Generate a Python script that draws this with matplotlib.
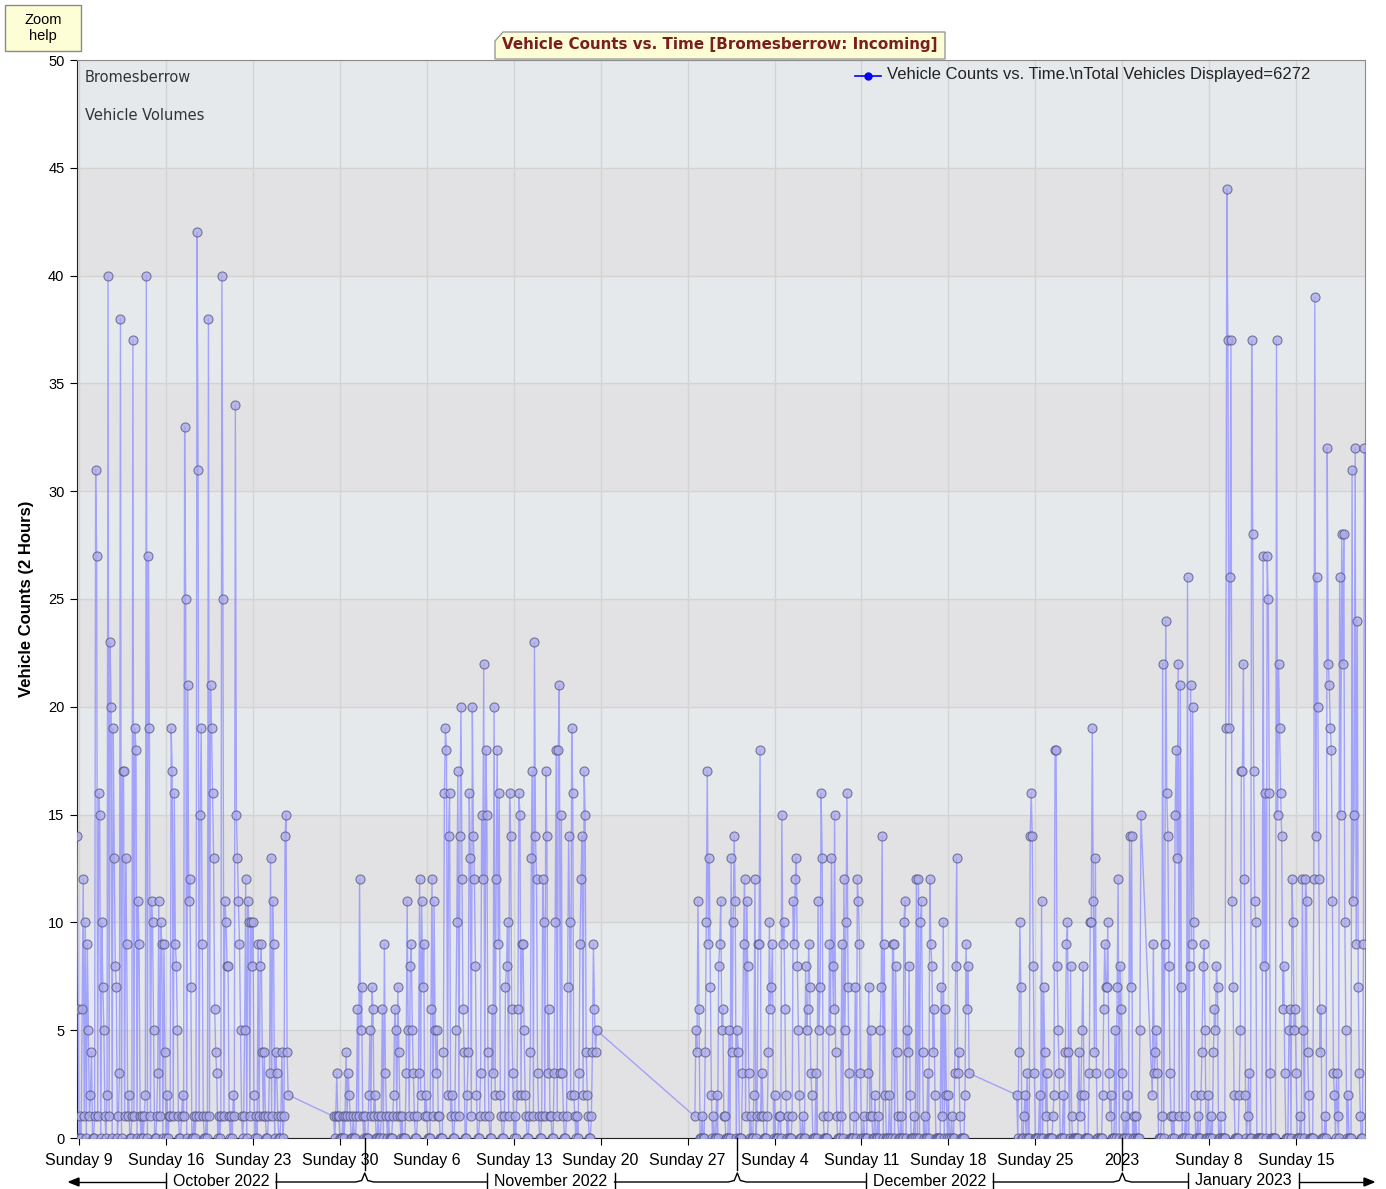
from datetime import datetime, timedelta

import matplotlib
matplotlib.use("Agg")
import matplotlib.dates as mdates
import matplotlib.pyplot as plt
import numpy as np
from matplotlib.lines import Line2D
from matplotlib.patches import Polygon, Rectangle


W, H = 1386, 1189

# 2-hour vehicle counts, one run per continuous stretch of data
oct_start = datetime(2022, 10, 8, 20)
oct_counts = [
    14, 6,
    0, 1, 0, 6, 12, 1, 10, 0, 9, 5, 1, 2,
    4, 0, 0, 1, 31, 27, 1, 16, 15, 0, 10, 7,
    5, 1, 0, 2, 40, 1, 23, 20, 0, 19, 13, 8,
    7, 0, 1, 3, 38, 0, 17, 17, 1, 13, 9, 1,
    2, 0, 0, 1, 37, 1, 19, 18, 0, 11, 9, 1,
    0, 1, 0, 1, 2, 40, 0, 27, 19, 1, 11, 10,
    5, 0, 0, 1, 3, 11, 1, 10, 9, 0, 9, 4,
    0, 2, 0, 1, 1, 19, 17, 1, 16, 9, 8, 5,
    1, 0, 0, 1, 2, 1, 33, 25, 0, 21, 11, 12,
    7, 0, 0, 1, 0, 1, 42, 31, 1, 15, 19, 9,
    1, 0, 0, 1, 0, 38, 1, 21, 19, 16, 13, 6,
    4, 3, 0, 1, 0, 1, 40, 25, 1, 11, 10, 8,
    8, 1, 0, 1, 0, 2, 1, 34, 15, 13, 11, 9,
    5, 1, 0, 1, 5, 12, 0, 11, 10, 1, 10, 8,
    10, 2, 0, 1, 0, 9, 1, 8, 9, 4, 1, 4,
    1, 0, 0, 1, 3, 13, 1, 11, 9, 0, 4, 3,
    1, 0, 0, 1, 4, 0, 1, 14, 15, 4, 2,
]

nov_start = datetime(2022, 10, 29, 12)
nov_counts = [
    1, 0, 1, 3, 1, 1,
    0, 0, 0, 1, 0, 1, 4, 1, 3, 2, 1, 0,
    0, 1, 0, 0, 1, 6, 1, 12, 5, 7, 1, 0,
    1, 0, 0, 0, 2, 5, 1, 7, 6, 1, 2, 0,
    0, 1, 0, 0, 1, 6, 0, 9, 3, 1, 0, 1,
    0, 0, 0, 1, 2, 6, 5, 1, 7, 4, 1, 0,
    1, 0, 0, 0, 3, 11, 5, 1, 8, 9, 5, 3,
    1, 0, 0, 1, 3, 12, 2, 11, 7, 9, 1, 2,
    1, 0, 0, 0, 6, 12, 1, 11, 5, 3, 5, 1,
    1, 0, 0, 0, 4, 16, 19, 18, 2, 14, 16, 1,
    2, 0, 0, 1, 5, 10, 17, 1, 14, 20, 12, 6,
    4, 0, 0, 2, 4, 16, 13, 1, 20, 14, 12, 8,
    2, 0, 0, 1, 3, 15, 12, 22, 1, 18, 15, 4,
    1, 0, 0, 6, 3, 20, 2, 12, 18, 9, 16, 2,
    1, 0, 0, 1, 7, 8, 10, 1, 16, 14, 6, 3,
    0, 1, 0, 2, 6, 16, 15, 2, 9, 9, 5, 2,
    1, 0, 0, 1, 4, 13, 17, 1, 23, 14, 12, 3,
    1, 0, 0, 1, 12, 10, 1, 17, 14, 3, 6, 1,
    1, 0, 0, 3, 10, 18, 1, 18, 21, 3, 15, 3,
    1, 0, 0, 1, 7, 14, 10, 2, 19, 16, 2, 1,
    0, 1, 0, 3, 9, 12, 14, 2, 17, 15, 4, 2,
    1, 0, 0, 1, 4, 9, 6, 4, 5,
]

dec_start = datetime(2022, 11, 27, 14)
dec_counts = [
    1, 5, 4, 11, 6,
    0, 0, 1, 0, 0, 4, 10, 17, 9, 13, 7, 2,
    0, 1, 0, 0, 2, 0, 8, 9, 11, 5, 6, 1,
    1, 0, 0, 0, 5, 0, 13, 4, 10, 14, 11, 0,
    5, 4, 0, 0, 0, 3, 9, 12, 1, 11, 8, 3,
    0, 1, 0, 0, 2, 12, 0, 1, 9, 9, 18, 1,
    3, 1, 0, 0, 0, 1, 4, 10, 6, 7, 9, 0,
    2, 0, 0, 0, 1, 1, 0, 15, 9, 10, 6, 2,
    0, 1, 0, 0, 0, 1, 11, 9, 12, 13, 8, 5,
    2, 0, 0, 1, 0, 0, 8, 5, 6, 9, 7, 3,
    2, 0, 0, 0, 3, 0, 11, 5, 7, 16, 13, 1,
    0, 0, 0, 0, 1, 9, 5, 13, 8, 6, 15, 4,
    1, 0, 0, 0, 1, 9, 0, 12, 5, 10, 16, 7,
    3, 0, 0, 0, 0, 1, 7, 0, 12, 11, 9, 3,
    0, 0, 1, 0, 0, 0, 3, 7, 1, 5, 1, 0,
    0, 2, 0, 0, 1, 0, 5, 7, 14, 0, 9, 2,
    0, 0, 0, 2, 0, 0, 9, 9, 0, 8, 4, 1,
    0, 0, 1, 0, 0, 10, 11, 0, 5, 4, 8, 2,
    0, 0, 0, 1, 0, 12, 0, 12, 0, 10, 11, 4,
    0, 1, 0, 0, 3, 0, 12, 9, 8, 4, 6, 2,
    0, 0, 0, 0, 0, 7, 1, 10, 0, 6, 2, 0,
    2, 0, 0, 1, 0, 0, 3, 8, 13, 3, 4, 1,
    0, 0, 0, 0, 2, 9, 6, 8, 3,
]

xmas_start = datetime(2022, 12, 23, 12)
xmas_counts = [
    2, 0, 4, 10, 7, 0,
    0, 1, 2, 0, 3, 0, 0, 14, 16, 14, 8, 3,
    0, 0, 0, 0, 2, 0, 11, 0, 7, 4, 1, 3,
    0, 0, 0, 0, 0, 1, 2, 18, 18, 8, 5, 3,
    0, 0, 0, 2, 0, 4, 9, 10, 4, 0, 8, 1,
    0, 0, 0, 0, 0, 0, 4, 1, 2, 5, 8, 2,
    0, 0, 0, 0, 3, 10, 10, 19, 11, 4, 13, 3,
    0, 0, 0, 0, 0, 2, 6, 9, 7, 7, 10, 3,
    1, 2, 0, 0, 0, 5, 0, 7, 12, 0, 8, 6,
    3, 0, 0, 1, 0, 2, 0, 14, 7, 14, 0, 1,
    0, 1, 0, 0, 0, 5, 15,
]

jan_start = datetime(2023, 1, 3, 10)
jan_counts = [
    2, 9, 3, 4, 5, 3, 0,
    0, 0, 1, 22, 0, 9, 24, 16, 14, 8, 3, 1,
    0, 1, 0, 15, 18, 13, 22, 1, 21, 7, 0, 0,
    0, 1, 0, 26, 0, 8, 21, 9, 20, 10, 2, 0,
    0, 1, 0, 0, 2, 4, 8, 9, 5, 0, 0, 2,
    0, 0, 1, 0, 4, 6, 5, 8, 7, 0, 0, 1,
    0, 0, 0, 0, 19, 44, 37, 19, 26, 37, 11, 7,
    2, 0, 0, 0, 0, 2, 5, 17, 17, 22, 12, 2,
    0, 1, 3, 0, 0, 37, 28, 17, 11, 10, 0, 0,
    0, 0, 0, 0, 27, 8, 16, 0, 27, 25, 16, 3,
    0, 0, 0, 0, 0, 37, 15, 22, 19, 16, 14, 6,
    8, 3, 0, 0, 0, 5, 6, 0, 12, 10, 5, 6,
    3, 0, 0, 0, 1, 0, 12, 5, 0, 12, 11, 4,
    2, 0, 0, 0, 0, 12, 39, 14, 26, 20, 12, 4,
    6, 0, 0, 0, 1, 0, 32, 22, 21, 19, 18, 11,
    3, 2, 0, 3, 1, 0, 26, 15, 28, 22, 28, 10,
    5, 0, 2, 0, 0, 0, 31, 11, 15, 32, 9, 24,
    7, 3, 1, 0, 0, 9, 32,
]

segments = [
    (oct_start, oct_counts),
    (nov_start, nov_counts),
    (dec_start, dec_counts),
    (xmas_start, xmas_counts),
    (jan_start, jan_counts),
]

x_start = datetime(2022, 10, 8, 20)
x_end = datetime(2023, 1, 20, 13)

sunday_ticks = [datetime(2022, 10, 9) + timedelta(days=7 * i) for i in range(15)]
sunday_labels = ["Sunday 9", "Sunday 16", "Sunday 23", "Sunday 30", "Sunday 6",
                 "Sunday 13", "Sunday 20", "Sunday 27", "Sunday 4", "Sunday 11",
                 "Sunday 18", "Sunday 25", "2023", "Sunday 8", "Sunday 15"]
month_bounds = [datetime(2022, 11, 1), datetime(2022, 12, 1), datetime(2023, 1, 1)]
month_labels = ["October 2022", "November 2022", "December 2022", "January 2023"]


def fig_xy(x, y):
    # pixel position (y from top) -> figure fraction
    return x / W, 1 - y / H


times = []
values = []
for start, counts in segments:
    for i, c in enumerate(counts):
        times.append(start + timedelta(hours=2 * i))
        values.append(c)
times = mdates.date2num(times)
values = np.array(values)

fig = plt.figure(figsize=(W / 100, H / 100), dpi=100)
fig.patch.set_facecolor("white")
ax = fig.add_axes([77 / W, 1 - 1138 / H, (1365 - 77) / W, (1138 - 60) / H])

ax.set_facecolor("#e6e9ec")
for lo in range(0, 50, 10):
    ax.axhspan(lo, lo + 5, color="#e2e2e4", zorder=0, lw=0)

ax.plot(times, values, color="#8c8cff", lw=1.0, alpha=0.75, zorder=3,
        marker="o", markersize=6.5, markerfacecolor="#aaaaee",
        markeredgecolor="#55557f", markeredgewidth=0.8)

ax.set_xlim(mdates.date2num(x_start), mdates.date2num(x_end))
ax.set_ylim(0, 50)
ax.set_yticks(np.arange(0, 51, 5))
ax.set_xticks(mdates.date2num(sunday_ticks))
ax.set_xticklabels(sunday_labels, fontsize=11.5, family="Liberation Sans")
ax.tick_params(axis="x", length=5, pad=6, color="black")
ax.tick_params(axis="y", length=5, pad=4, labelsize=10.5, color="black")
for lab in ax.get_yticklabels():
    lab.set_family("Liberation Sans")
ax.grid(True, color="#d3d3d3", lw=1.0, zorder=1)
ax.set_axisbelow(True)
for side in ["top", "right"]:
    ax.spines[side].set_color("#8c8c8c")
ax.spines["left"].set_color("#222222")
ax.spines["bottom"].set_color("#222222")

ax.set_ylabel("Vehicle Counts (2 Hours)", fontsize=12, fontweight="bold",
              family="Liberation Sans")
ax.yaxis.set_label_coords(-0.0335, 0.5)

fig.text(*fig_xy(85, 77), "Bromesberrow", fontsize=10.5, color="#333333", va="center")
fig.text(*fig_xy(85, 116), "Vehicle Volumes", fontsize=10.5, color="#333333", va="center")

# legend entry
lx0, lx1, ly = 855, 881, 76
fig.add_artist(Line2D([lx0 / W, lx1 / W], [1 - ly / H] * 2, color="#0000ff", lw=1.2,
                      transform=fig.transFigure))
fig.add_artist(Line2D([(lx0 + lx1) / 2 / W], [1 - ly / H], color="#0000ff", marker="o",
                      markersize=5, transform=fig.transFigure))
fig.text(*fig_xy(887, 74), "Vehicle Counts vs. Time.\\nTotal Vehicles Displayed=6272",
         fontsize=12, family="Liberation Sans", color="#222222", va="center")

# title tab
tab = [fig_xy(495, 59), fig_xy(495, 41), fig_xy(503, 32), fig_xy(945, 32), fig_xy(945, 59)]
fig.add_artist(Polygon(tab, closed=True, facecolor="#fdfdd6", edgecolor="#9a9a9a",
                       lw=1, transform=fig.transFigure, zorder=5))
fig.text(*fig_xy(720, 45), "Vehicle Counts vs. Time [Bromesberrow: Incoming]",
         fontsize=10.9, fontweight="bold", color="#7a1e1e", ha="center", va="center",
         zorder=6)

# zoom help box
bx, by = fig_xy(5, 51)
fig.add_artist(Rectangle((bx, by), 76 / W, 46 / H, facecolor="#fdfdd6",
                         edgecolor="#8a8a8a", lw=1, transform=fig.transFigure))
fig.text(*fig_xy(43, 28), "Zoom\nhelp", fontsize=10.5, family="Liberation Sans",
         ha="center", va="center", linespacing=1.1)


# second-level month axis with braces
def data_px(d):
    return ax.transData.transform((mdates.date2num(d), 0))[0]


renderer = fig.canvas.get_renderer()
edges = [x_start] + month_bounds + [x_end]
line_y = 1182
label_boxes = []
for i, name in enumerate(month_labels):
    cx = (data_px(edges[i]) + data_px(edges[i + 1])) / 2
    t = fig.text(*fig_xy(cx, line_y - 1), name, fontsize=11.5, family="Liberation Sans",
                 ha="center", va="center")
    bb = t.get_window_extent(renderer=renderer)
    label_boxes.append((bb.x0 - 7, bb.x1 + 7))


def draw_px_line(xs, ys, **kw):
    fx = [x / W for x in xs]
    fy = [1 - y / H for y in ys]
    fig.add_artist(Line2D(fx, fy, color="black", lw=1.0, transform=fig.transFigure, **kw))


for x0, x1 in label_boxes:
    for bxp in (x0, x1):
        draw_px_line([bxp, bxp], [line_y - 9, line_y + 8])

draw_px_line([72, label_boxes[0][0]], [line_y, line_y])
for i, b in enumerate(month_bounds):
    bpx = data_px(b)
    xs = [label_boxes[i][1], bpx - 9, bpx - 3, bpx, bpx + 3, bpx + 9, label_boxes[i + 1][0]]
    ys = [line_y, line_y, line_y - 1.5, line_y - 9, line_y - 1.5, line_y, line_y]
    draw_px_line(xs, ys)
    draw_px_line([bpx, bpx], [1138, line_y - 12])
draw_px_line([label_boxes[-1][1], 1368], [line_y, line_y])

fig.add_artist(Polygon([fig_xy(69, line_y), fig_xy(79, line_y - 4), fig_xy(79, line_y + 4)],
                       closed=True, color="black", transform=fig.transFigure))
fig.add_artist(Polygon([fig_xy(1374, line_y), fig_xy(1364, line_y - 4), fig_xy(1364, line_y + 4)],
                       closed=True, color="black", transform=fig.transFigure))

fig.savefig("out.png", dpi=100)
